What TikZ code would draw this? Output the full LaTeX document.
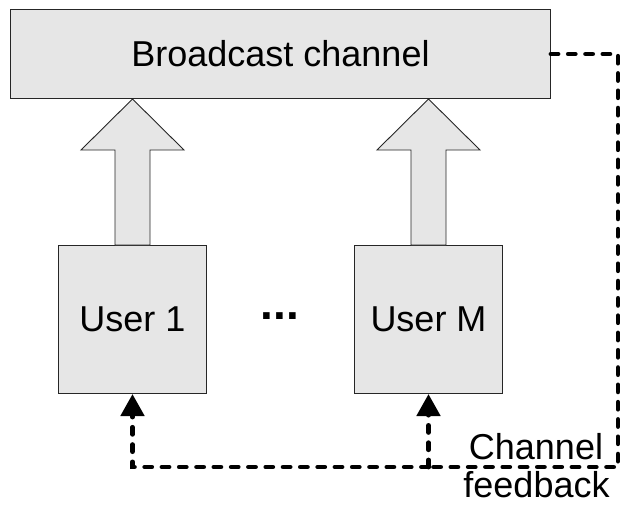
\documentclass[tikz,border=0pt]{standalone}
\usepackage{fontspec}
\setmainfont{Liberation Sans}
\usetikzlibrary{arrows.meta,calc}
\definecolor{boxgray}{HTML}{E6E6E6}
\tikzset{
  box/.style={draw=black!85, line width=1pt, fill=boxgray, inner sep=0pt,
    font=\fontsize{36}{40}\selectfont},
  fatarrow/.style={draw=black!85, line width=0.9pt, fill=boxgray, line join=miter},
  feedback/.style={line width=4.8pt, line cap=round, dash pattern=on 7pt off 10.3pt},
  fbarrow/.style={feedback, -{Triangle[width=23pt,length=22pt]}},
  lbl/.style={font=\fontsize{36}{39}\selectfont, inner sep=0pt}
}
\begin{document}
\begin{tikzpicture}[x=1pt, y=-1pt]
\useasboundingbox (0,0) rectangle (621,504);
\node[box, minimum width=540pt, minimum height=89pt] (bc) at (280.5,54) {Broadcast channel};
\node[box, minimum width=148.5pt, minimum height=148pt] (u1) at (132.5,319.5) {User 1};
\node[box, minimum width=148.5pt, minimum height=148pt] (uM) at (428.5,319.5) {User M};
\node[font=\fontsize{46}{46}\selectfont\bfseries, inner sep=0pt, anchor=base] (dots) at (280,319) {...};
% fat arrows
\foreach \u in {u1,uM}{
  \coordinate (tip\u) at (\u.north |- bc.south);
  \draw[fatarrow] ($(\u.north)+(-17.5,0)$) -- ($(tip\u)+(-17.5,51)$) -- ($(tip\u)+(-51.5,51)$)
    -- (tip\u) -- ($(tip\u)+(51.5,51)$) -- ($(tip\u)+(17.5,51)$) -- ($(\u.north)+(17.5,0)$) -- cycle;
}
% feedback
\coordinate (cr) at (618,54);
\coordinate (br) at (618,467);
\coordinate (bM) at (uM.south |- br);
\draw[feedback] (bc.east) -- (cr) -- (br) -- (bM);
\draw[fbarrow] (bM) -| (u1.south);
\draw[fbarrow] (bM) -- (uM.south);
\node[lbl, anchor=base] (lab1) at (536,459) {Channel};
\node[lbl, anchor=base] (lab2) at (536.5,497) {feedback};
\end{tikzpicture}
\end{document}
